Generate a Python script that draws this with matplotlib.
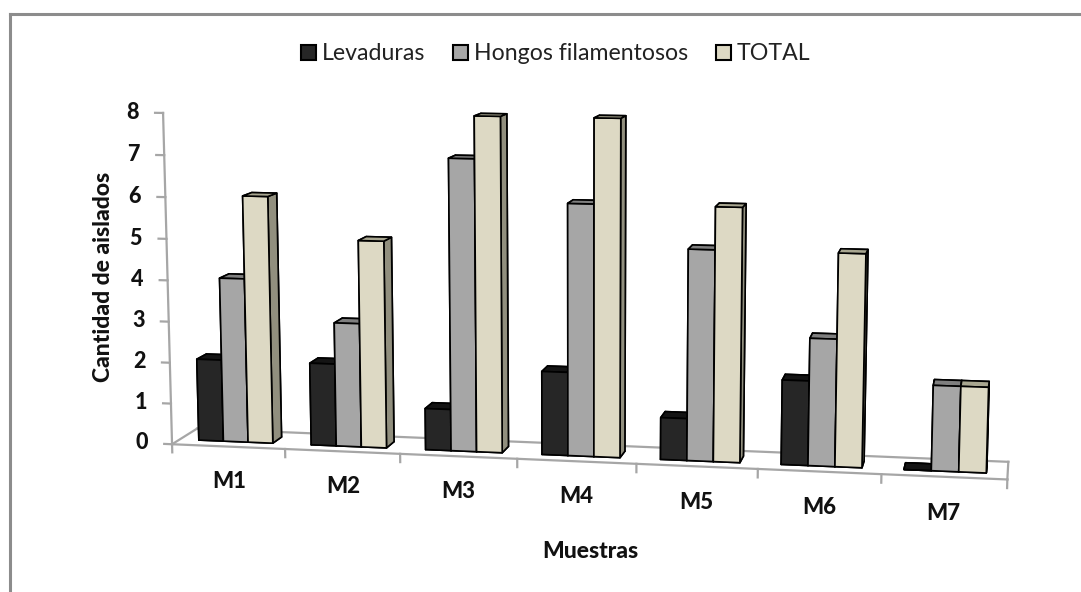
import numpy as np
import matplotlib
matplotlib.use("Agg")
import matplotlib.pyplot as plt
from matplotlib.patches import Patch
from matplotlib.lines import Line2D
from mpl_toolkits.mplot3d import proj3d

plt.rcParams['font.family'] = ['Lato', 'DejaVu Sans']

muestras = ['M1', 'M2', 'M3', 'M4', 'M5', 'M6', 'M7']
levaduras = [2, 2, 1, 2, 1, 2, 0]
hongos = [4, 3, 7, 6, 5, 3, 2]
total = [6, 5, 8, 8, 6, 5, 2]
yticks = [0, 1, 2, 3, 4, 5, 6, 7, 8]

series = [levaduras, hongos, total]
nombres = ['Levaduras', 'Hongos filamentosos', 'TOTAL']
# front, top and side colour of each series
frente = ['#262626', '#a6a6a6', '#ddd9c4']
arriba = ['#141414', '#7f7f7f', '#a8a690']
lado = ['#0a0a0a', '#6a6a6a', '#918f7e']

W, H = 1081, 592
fig = plt.figure(figsize=(W/100, H/100), dpi=100)
# only the top and left of the chart frame are in the picture
fig.add_artist(Line2D([10/W, 10/W], [0, 1-14/H], color='#8c8c8c', lw=2.2))
fig.add_artist(Line2D([10/W, 1], [1-14/H, 1-14/H], color='#8c8c8c', lw=2.2))

# square 3d axes, bigger than the figure so the box has the right scale
S = 888
cx, cy = 583.5, 286.5
ax = fig.add_axes([(cx-0.5135*S)/W, 1-(cy+0.5135*S)/H, S/W, S/H], projection='3d')
ax.patch.set_alpha(0)
ax.set_axis_off()
ax.computed_zorder = False
ax.set_box_aspect((834, 75, 336))
ax.view_init(elev=9, azim=-79.5)
ax.set_proj_type('persp', focal_length=0.506)
ax.set_xlim(0, 7, view_margin=0)
ax.set_ylim(0, 1, view_margin=0)
ax.set_zlim(0, 8, view_margin=0)


def etiqueta(x, y, z, s, size):
    # 3d point to the 2d coordinates of the axes
    xp, yp, _ = proj3d.proj_transform(x, y, z, ax.get_proj())
    ax.text2D(xp, yp, s, transform=ax.transData, ha='center', va='center',
              fontsize=size, fontweight=900, color='#111111')


gris = '#a6a6a6'
n = len(muestras)
# floor
ax.plot([0, n], [0, 0], [0, 0], color=gris, lw=1.6, zorder=1)
ax.plot([0, 0], [0, 1], [0, 0], color=gris, lw=1.6, zorder=1)
ax.plot([0, n], [1, 1], [0, 0], color=gris, lw=1.6, zorder=1)
ax.plot([n, n], [0, 1], [0, 0], color=gris, lw=1.6, zorder=1)
# value axis
ax.plot([0, 0], [0, 0], [0, yticks[-1]], color=gris, lw=1.6, zorder=1)
for v in yticks:
    ax.plot([-0.07, 0], [0, 0], [v, v], color=gris, lw=1.6, zorder=1)
    etiqueta(-0.27, 0, v, str(v), 15.5)
for i in range(n+1):
    ax.plot([i, i], [0, 0], [0, -0.2], color=gris, lw=1.6, zorder=1)
for i, m in enumerate(muestras):
    etiqueta(i+0.5, 0, -0.85, m, 16)

ancho = 0.22
inicio = 0.17
x = np.arange(n)
for k, valores in enumerate(series):
    caras = [arriba[k], arriba[k], frente[k], frente[k], lado[k], lado[k]] * n
    ax.bar3d(x+inicio+k*ancho, 0.31, 0, ancho, 0.39, valores, color=caras, shade=False,
             edgecolor='black', linewidth=1.2, zorder=2+k)

fig.text(103/W, 1-277/H, 'Cantidad de aislados', rotation=90, ha='center', va='center',
         fontsize=16.5, fontweight=900, color='#111111')
fig.text(590/W, 1-551/H, 'Muestras', ha='center', va='center', fontsize=16.5, fontweight=900, color='#111111')

handles = [Patch(facecolor=frente[k], edgecolor='black', linewidth=1.5) for k in range(3)]
fig.legend(handles, nombres, loc='center', bbox_to_anchor=(556/W, 1-54/H), ncols=3, frameon=False,
           fontsize=16.7, handlelength=0.65, handleheight=0.65, handletextpad=0.25, columnspacing=1.2,
           labelcolor='#222222')

fig.savefig('out.png', dpi=100)
